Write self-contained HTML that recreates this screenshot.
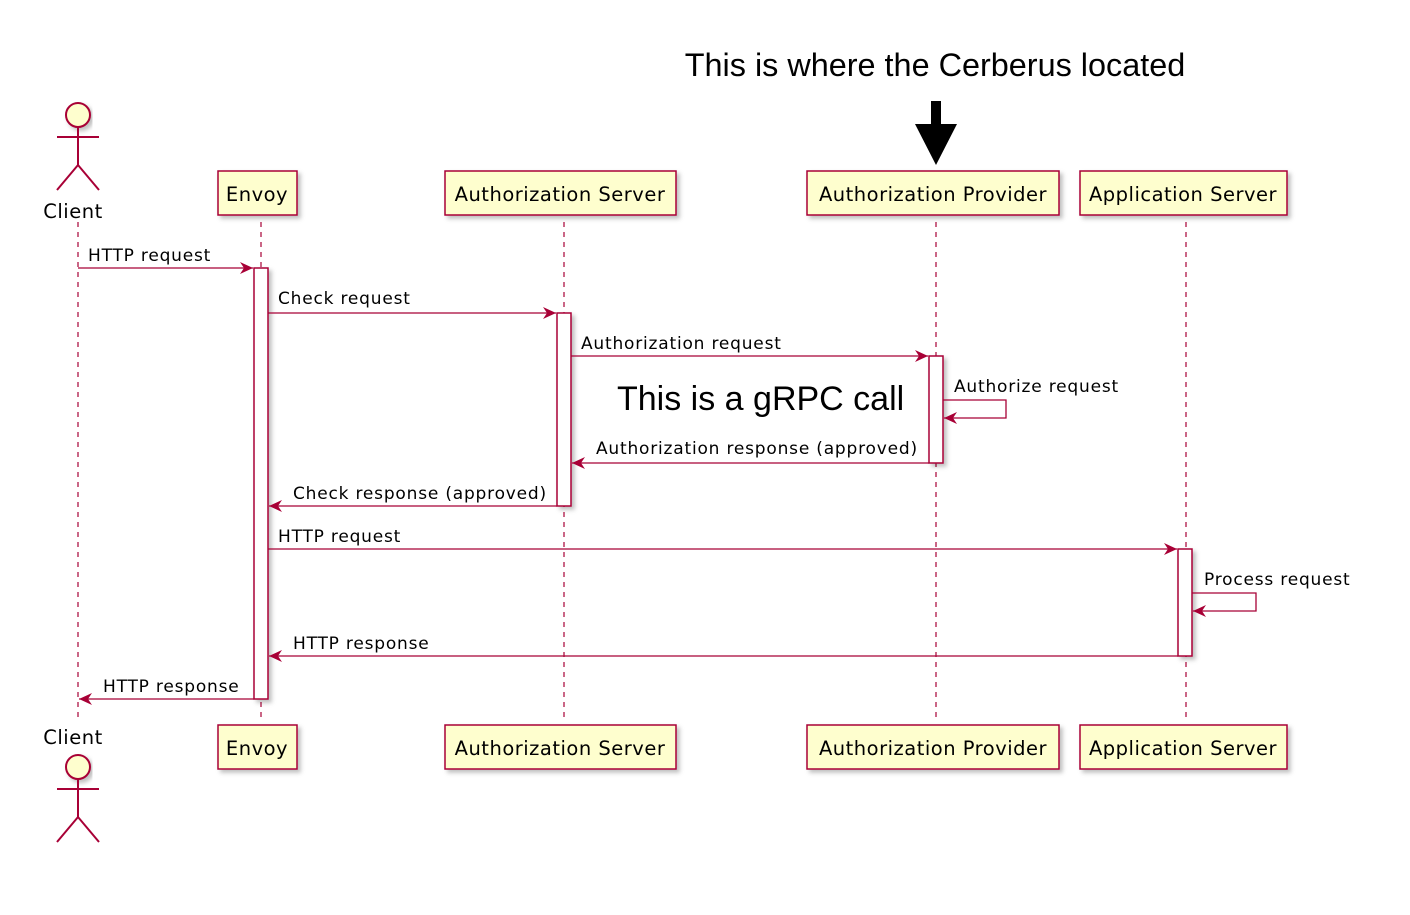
<!DOCTYPE html>
<html><head><meta charset="utf-8"><style>body{margin:0;background:#fff}</style></head><body>
<svg width="1410" height="910" xmlns="http://www.w3.org/2000/svg" font-family="DejaVu Sans, sans-serif">
<defs>
<marker id="a" markerWidth="14" markerHeight="12" refX="13" refY="6" orient="auto" markerUnits="userSpaceOnUse"><path d="M0,0 L13,6 L0,12 L4,6 Z" fill="#A80036"/></marker>
<filter id="s"><feDropShadow dx="3" dy="3" stdDeviation="2" flood-color="#000" flood-opacity="0.25"/></filter>
</defs>
<g stroke="#A80036" stroke-width="1.2" stroke-dasharray="5,5">
<line x1="78" y1="222" x2="78" y2="720"/><line x1="261" y1="222" x2="261" y2="720"/><line x1="564" y1="222" x2="564" y2="720"/><line x1="936" y1="222" x2="936" y2="720"/><line x1="1186" y1="222" x2="1186" y2="720"/>
</g>
<g fill="#FEFECE" stroke="#A80036" stroke-width="1.5" filter="url(#s)">
<rect x="218" y="171" width="79" height="44"/><rect x="445" y="171" width="231" height="44"/><rect x="807" y="171" width="252" height="44"/><rect x="1080" y="171" width="207" height="44"/>
<rect x="218" y="725" width="79" height="44"/><rect x="445" y="725" width="231" height="44"/><rect x="807" y="725" width="252" height="44"/><rect x="1080" y="725" width="207" height="44"/>
<rect x="254" y="268" width="14" height="431" fill="#fff"/><rect x="557" y="313" width="14" height="193" fill="#fff"/><rect x="929" y="356" width="14" height="107" fill="#fff"/><rect x="1178" y="549" width="14" height="107" fill="#fff"/>
</g>
<g fill="#FEFECE" stroke="#A80036" stroke-width="2" filter="url(#s)">
<circle cx="78" cy="115" r="12"/><circle cx="78" cy="767" r="12"/>
</g>
<g stroke="#A80036" stroke-width="2" fill="none">
<path d="M78,127 V165 M57,137 H99 M57,190 L78,165 L99,190"/>
<path d="M78,779 V817 M57,789 H99 M57,842 L78,817 L99,842"/>
</g>
<g font-size="19.5" fill="#000" text-anchor="middle" letter-spacing="0.5">
<text x="257" y="201">Envoy</text><text x="560" y="201">Authorization Server</text><text x="933" y="201">Authorization Provider</text><text x="1183" y="201">Application Server</text>
<text x="257" y="755">Envoy</text><text x="560" y="755">Authorization Server</text><text x="933" y="755">Authorization Provider</text><text x="1183" y="755">Application Server</text>
<text x="73" y="218">Client</text><text x="73" y="744">Client</text>
</g>
<g stroke="#A80036" stroke-width="1.3" fill="none" marker-end="url(#a)">
<line x1="78" y1="268" x2="253" y2="268"/><line x1="268" y1="313" x2="556" y2="313"/><line x1="571" y1="356" x2="928" y2="356"/>
<path d="M943,400 H1006 V418 H944"/>
<line x1="929" y1="463" x2="572" y2="463"/><line x1="557" y1="506" x2="269" y2="506"/><line x1="268" y1="549" x2="1177" y2="549"/>
<path d="M1192,593 H1256 V611 H1193"/>
<line x1="1178" y1="656" x2="269" y2="656"/><line x1="254" y1="699" x2="79" y2="699"/>
</g>
<g font-size="17" fill="#000" letter-spacing="0.8">
<text x="88" y="261">HTTP request</text><text x="278" y="304">Check request</text><text x="581" y="349">Authorization request</text>
<text x="954" y="392">Authorize request</text><text x="596" y="454">Authorization response (approved)</text><text x="293" y="499">Check response (approved)</text>
<text x="278" y="542">HTTP request</text><text x="1204" y="585">Process request</text><text x="293" y="649">HTTP response</text><text x="103" y="692">HTTP response</text>
</g>
<text x="617" y="410" font-size="34" fill="#000" font-family="Liberation Sans, sans-serif">This is a gRPC call</text>
<text x="935" y="76" font-size="32.4" fill="#000" text-anchor="middle" font-family="Liberation Sans, sans-serif">This is where the Cerberus located</text>
<path d="M931,101 H941 V124 H957 L936,165 L915,124 H931 Z" fill="#000"/>
</svg>
</body></html>
